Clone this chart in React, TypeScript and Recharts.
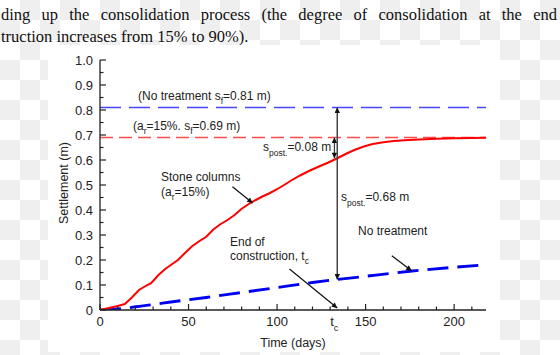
import React from 'react';
import { LineChart, Line, XAxis, YAxis, ReferenceLine } from 'recharts';

// stone columns (a_r = 15%)
const stoneDays = [0, 5, 10, 14, 18, 22, 26, 29, 33, 37, 40, 44, 48, 52, 56, 60, 64, 68, 72, 76, 80, 84, 88, 92, 96, 100, 104, 108, 113, 118, 124, 129, 134, 139, 144, 149, 154, 160, 166, 172, 180, 190, 200, 210, 218];
const stoneSettle = [0, 0.008, 0.016, 0.024, 0.05, 0.08, 0.097, 0.108, 0.14, 0.165, 0.18, 0.2, 0.228, 0.255, 0.275, 0.293, 0.322, 0.343, 0.36, 0.38, 0.405, 0.424, 0.44, 0.455, 0.468, 0.483, 0.5, 0.518, 0.538, 0.556, 0.575, 0.59, 0.607, 0.625, 0.641, 0.654, 0.664, 0.671, 0.676, 0.679, 0.682, 0.685, 0.687, 0.688, 0.689];

// no treatment
const plainDays = [0, 5, 10, 15, 20, 30, 40, 60, 80, 100, 120, 134, 150, 175, 200, 218];
const plainSettle = [0, 0.001, 0.004, 0.008, 0.013, 0.022, 0.032, 0.05, 0.07, 0.09, 0.11, 0.122, 0.135, 0.155, 0.171, 0.181];

const finalNoTreatment = 0.81;
const finalStone = 0.69;
const endOfConstruction = 134;
const stoneAtEnd = 0.607;
const plainAtEnd = 0.122;

const xMajor = [0, 50, 100, 150, 200];
const xTicks = [0, 10, 20, 30, 40, 50, 60, 70, 80, 90, 100, 110, 120, 130, 134, 140, 150, 160, 170, 180, 190, 200, 210];
const yTicks = [0, 0.05, 0.1, 0.15, 0.2, 0.25, 0.3, 0.35, 0.4, 0.45, 0.5, 0.55, 0.6, 0.65, 0.7, 0.75, 0.8, 0.85, 0.9, 0.95, 1.0];

// leader arrows (time, settlement): from label to target
const stoneLeader = [{ x: 74.8, y: 0.493 }, { x: 86.2, y: 0.428 }];
const endLeader = [{ x: 107, y: 0.164 }, { x: 134, y: 0.008 }];
const plainLeader = [{ x: 164.8, y: 0.217 }, { x: 176, y: 0.157 }];

const stone = stoneDays.map((d, i) => ({ x: d, y: stoneSettle[i] }));
const plain = plainDays.map((d, i) => ({ x: d, y: plainSettle[i] }));
const longArrow = [{ x: endOfConstruction, y: finalNoTreatment }, { x: endOfConstruction, y: plainAtEnd }];
const shortArrow = [{ x: endOfConstruction - 1.6, y: finalStone }, { x: endOfConstruction - 1.6, y: stoneAtEnd }];

const INK = '#222';
const isMajorX = (v: number) => xMajor.includes(v);
const isMajorY = (v: number) => Math.abs(v * 10 - Math.round(v * 10)) < 1e-6;

const BottomTick = (p: any) => {
  const v = p.payload.value;
  if (v === endOfConstruction) {
    return (
      <text x={p.x - 3} y={p.y + 16} fontSize={13} fill={INK} textAnchor="middle">
        t<tspan dy={5} fontSize={9}>c</tspan>
      </text>
    );
  }
  const major = isMajorX(v);
  return (
    <g>
      <line x1={p.x} x2={p.x} y1={p.y} y2={p.y - (major ? 6 : 3.5)} stroke={INK} strokeWidth={1.2} />
      {major && (
        <text x={p.x} y={p.y + 16} fontSize={13} fill={INK} textAnchor="middle">{v}</text>
      )}
    </g>
  );
};

const TopTick = (p: any) => {
  const v = p.payload.value;
  if (v === endOfConstruction) return <g />;
  return <line x1={p.x} x2={p.x} y1={p.y} y2={p.y + (isMajorX(v) ? 6 : 3.5)} stroke={INK} strokeWidth={1.2} />;
};

const LeftTick = (p: any) => {
  const v = p.payload.value;
  const major = isMajorY(v);
  return (
    <g>
      <line x1={p.x} x2={p.x + (major ? 6 : 3.5)} y1={p.y} y2={p.y} stroke={INK} strokeWidth={1.2} />
      {major && (
        <text x={p.x - 7} y={p.y + 4.5} fontSize={13} fill={INK} textAnchor="end">
          {v === 0 ? '0' : v.toFixed(1)}
        </text>
      )}
    </g>
  );
};

const RightTick = (p: any) => {
  const v = p.payload.value;
  return <line x1={p.x} x2={p.x - (isMajorY(v) ? 6 : 3.5)} y1={p.y} y2={p.y} stroke={INK} strokeWidth={1.2} />;
};

const sub = (s: string) => (
  <>
    <tspan dy={3.5} fontSize={8.5}>{s}</tspan>
  </>
);

export default function App() {
  return (
    <div
      style={{
        position: 'absolute',
        left: 0,
        top: 0,
        width: 560,
        height: 355,
        overflow: 'hidden',
        backgroundImage: 'conic-gradient(#efefef 25%, #fff 0 50%, #efefef 0 75%, #fff 0)',
        backgroundSize: '40px 40px',
      }}
    >
      <svg width={0} height={0} style={{ position: 'absolute' }}>
        <defs>
          <marker id="ah" viewBox="0 0 10 10" refX={10} refY={5} markerWidth={7} markerHeight={5.5} markerUnits="userSpaceOnUse" orient="auto-start-reverse">
            <path d="M0,0 L10,5 L0,10 z" fill="#111" />
          </marker>
        </defs>
      </svg>

      <div style={{ position: 'absolute', left: 1, top: 4, width: 556, fontFamily: '"Liberation Serif", "Times New Roman", serif', fontSize: 16.5, lineHeight: '21.5px', color: '#111' }}>
        <div style={{ textAlign: 'justify', textAlignLast: 'justify' }}>
          ding up the consolidation process (the degree of consolidation at the end
        </div>
        <div>truction increases from 15% to 90%).</div>
      </div>

      <div style={{ position: 'absolute', left: 48, top: 45, width: 452, height: 307, background: '#fff' }} />

      <div style={{ position: 'absolute', left: 0, top: 0 }}>
        <LineChart
          width={560}
          height={355}
          margin={{ top: 60, right: 74, bottom: 15, left: 60 }}
          style={{ fontFamily: '"Liberation Sans", Arial, sans-serif' }}
        >
          <XAxis
            dataKey="x"
            type="number"
            domain={[0, 218]}
            allowDataOverflow
            ticks={xTicks}
            interval={0}
            height={30}
            tickSize={0}
            tickMargin={0}
            tickLine={false}
            tick={<BottomTick />}
            axisLine={{ stroke: INK, strokeWidth: 1.3 }}
          />
          <XAxis
            xAxisId="top"
            orientation="top"
            dataKey="x"
            type="number"
            domain={[0, 218]}
            allowDataOverflow
            ticks={xTicks}
            interval={0}
            height={0}
            tickSize={0}
            tickMargin={0}
            tickLine={false}
            tick={<TopTick />}
            axisLine={{ stroke: INK, strokeWidth: 1.3 }}
          />
          <YAxis
            type="number"
            domain={[0, 1]}
            allowDataOverflow
            ticks={yTicks}
            interval={0}
            width={40}
            tickSize={0}
            tickMargin={0}
            tickLine={false}
            tick={<LeftTick />}
            axisLine={{ stroke: INK, strokeWidth: 1.3 }}
          />
          <YAxis
            yAxisId="right"
            orientation="right"
            type="number"
            domain={[0, 1]}
            allowDataOverflow
            ticks={yTicks}
            interval={0}
            width={0}
            tickSize={0}
            tickMargin={0}
            tickLine={false}
            tick={<RightTick />}
            axisLine={{ stroke: INK, strokeWidth: 1.3 }}
          />

          <ReferenceLine y={finalNoTreatment} stroke="#4646ff" strokeWidth={1.6} strokeDasharray="21 8" />
          <ReferenceLine y={finalStone} stroke="#ff4a4a" strokeWidth={1.6} strokeDasharray="13 6" />

          <Line data={plain} dataKey="y" type="monotone" stroke="#0000f0" strokeWidth={2.8} strokeDasharray="21 9" dot={false} activeDot={false} isAnimationActive={false} />
          <Line data={stone} dataKey="y" type="linear" stroke="#ff0000" strokeWidth={2} dot={false} activeDot={false} isAnimationActive={false} />

          <Line data={longArrow} dataKey="y" stroke="#444" strokeWidth={1.5} dot={false} activeDot={false} markerStart="url(#ah)" markerEnd="url(#ah)" isAnimationActive={false} />
          <Line data={shortArrow} dataKey="y" stroke="#444" strokeWidth={1.3} dot={false} activeDot={false} markerStart="url(#ah)" markerEnd="url(#ah)" isAnimationActive={false} />
          <Line data={stoneLeader} dataKey="y" stroke="#111" strokeWidth={1.2} dot={false} activeDot={false} markerEnd="url(#ah)" isAnimationActive={false} />
          <Line data={endLeader} dataKey="y" stroke="#111" strokeWidth={1.2} dot={false} activeDot={false} markerEnd="url(#ah)" isAnimationActive={false} />
          <Line data={plainLeader} dataKey="y" stroke="#111" strokeWidth={1.2} dot={false} activeDot={false} markerEnd="url(#ah)" isAnimationActive={false} />
        </LineChart>
      </div>

      <svg
        width={560}
        height={355}
        style={{ position: 'absolute', left: 0, top: 0, pointerEvents: 'none', fontFamily: '"Liberation Sans", Arial, sans-serif' }}
        fontSize={12}
        fill={INK}
      >
        <text x={138} y={100}>
          (No treatment s{sub('f')}<tspan dy={-3.5}>=0.81 m)</tspan>
        </text>
        <text x={133} y={130}>
          (a{sub('r')}<tspan dy={-3.5}>=15%. s</tspan>{sub('f')}<tspan dy={-3.5}>=0.69 m)</tspan>
        </text>
        <text x={263} y={151}>
          s<tspan dy={5} fontSize={8.5}>post.</tspan><tspan dy={-5}>=0.08 m</tspan>
        </text>
        <text x={161} y={181}>Stone columns</text>
        <text x={161} y={196}>
          (a{sub('r')}<tspan dy={-3.5}>=15%)</tspan>
        </text>
        <text x={341} y={201}>
          s<tspan dy={5} fontSize={8.5}>post.</tspan><tspan dy={-5}>=0.68 m</tspan>
        </text>
        <text x={358} y={235}>No treatment</text>
        <text x={230} y={246}>End of</text>
        <text x={230} y={260}>
          construction, t{sub('c')}
        </text>
        <text x={293} y={347} textAnchor="middle" fontSize={12.5}>Time (days)</text>
        <text transform="translate(68,183) rotate(-90)" textAnchor="middle" fontSize={12.5}>Settlement (m)</text>
      </svg>
    </div>
  );
}
